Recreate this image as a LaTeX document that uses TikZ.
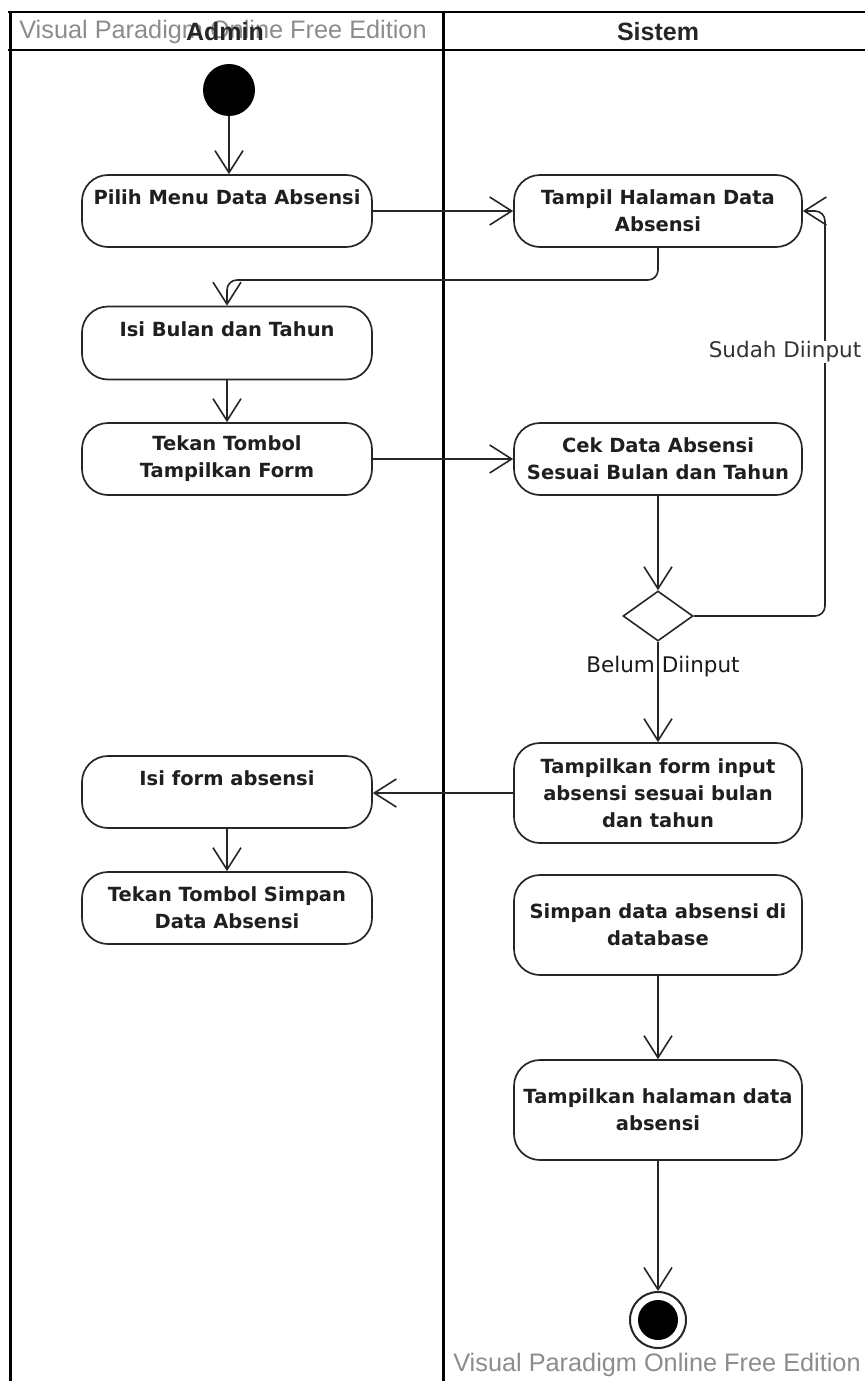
\documentclass[tikz,border=0pt]{standalone}
\usepackage{fontspec}
\setmainfont{DejaVu Sans}
\newfontfamily\arialf{Liberation Sans}
\usetikzlibrary{arrows.meta,shapes.geometric}
\begin{document}
\begin{tikzpicture}[x=1pt,y=-1pt,
 act/.style={draw=black!85, line width=1.7pt, rounded corners=26pt, minimum width=290pt, minimum height=72pt, align=center, font=\bfseries\fontsize{19.5}{27}\selectfont, text=black!88, inner sep=0pt},
 flow/.style={draw=black!85, line width=1.6pt, -{Straight Barb[length=22pt,width=28pt,line width=1.6pt]}},
 lane/.style={line width=3pt},
 wm/.style={font=\arialf\fontsize{25.3}{28}\selectfont, text=black!45},
 lbl/.style={font=\fontsize{21.5}{24}\selectfont, text=black!80}
]
\useasboundingbox (0,0) rectangle (865,1381);
% swimlanes
\draw[line width=1.5pt] (8,12) -- (865,12);
\draw[line width=2pt] (8,50) -- (865,50);
\draw[lane] (10,12) -- (10,1381);
\draw[lane] (443,12) -- (443,1381);
\node[wm] (wm1) at (223,32) {Visual Paradigm Online Free Edition};
\node[font=\arialf\bfseries\fontsize{25}{28}\selectfont, text=black!85] (hadmin) at (225,32) {Admin};
\node[font=\arialf\bfseries\fontsize{25}{28}\selectfont, text=black!85] (hsis) at (658,32) {Sistem};
\node[wm] (wm2) at (657,1365) {Visual Paradigm Online Free Edition};
% nodes
\node[circle, fill=black, minimum size=52pt, inner sep=0pt] (start) at (229,90) {};
\node[act] (pilih) at (227,211) {Pilih Menu Data Absensi\\ \mbox{}};
\node[act, minimum width=288pt] (tampil) at (658,211) {Tampil Halaman Data\\Absensi};
\node[act, minimum height=73pt] (isib) at (227,343) {Isi Bulan dan Tahun\\ \mbox{}};
\node[act] (tekan) at (227,459) {Tekan Tombol\\Tampilkan Form};
\node[act, minimum width=288pt] (cek) at (658,459) {Cek Data Absensi\\Sesuai Bulan dan Tahun};
\node[diamond, draw=black!85, line width=1.6pt, minimum width=70pt, minimum height=50pt, inner sep=0pt] (dec) at (658,616) {};
\node[act, minimum width=288pt, minimum height=100pt] (tfi) at (658,793) {Tampilkan form input\\absensi sesuai bulan\\dan tahun};
\node[act] (isif) at (227,792) {Isi form absensi\\ \mbox{}};
\node[act] (tsimpan) at (227,908) {Tekan Tombol Simpan\\Data Absensi};
\node[act, minimum width=288pt, minimum height=100pt] (simpan) at (658,925) {Simpan data absensi di\\database};
\node[act, minimum width=288pt, minimum height=100pt] (th) at (658,1110) {Tampilkan halaman data\\absensi};
\node[circle, draw=black!85, line width=2pt, minimum size=56pt, inner sep=0pt] (end) at (658,1320) {};
\fill (end.center) circle (20pt);
% connectors
\draw[flow] (start) -- (pilih.north -| start);
\draw[flow] (pilih.east) -- (tampil.west);
\coordinate (j1) at (658,280);
\draw[flow, rounded corners=10pt] (tampil.south) -- (j1) -| (isib.north);
\draw[flow] (isib) -- (tekan);
\draw[flow] (tekan.east) -- (cek.west);
\draw[flow] (cek) -- (dec);
\coordinate (r1) at (825,616);
\coordinate (r2) at (825,211);
\draw[flow, rounded corners=10pt] (dec.east) -- (r1) -- (r2) -- (tampil.east);
\node[lbl, fill=white, inner sep=1pt] (lsudah) at (785,352) {Sudah Diinput};
\draw[flow] (dec) -- (tfi);
\node[lbl, text=black!90] (lbelum) at (663,667) {Belum Diinput};
\draw[flow] (tfi.west) -- (isif.east |- tfi.west);
\draw[flow] (isif) -- (tsimpan);
\draw[flow] (simpan) -- (th);
\draw[flow] (th) -- (end);
\end{tikzpicture}
\end{document}
